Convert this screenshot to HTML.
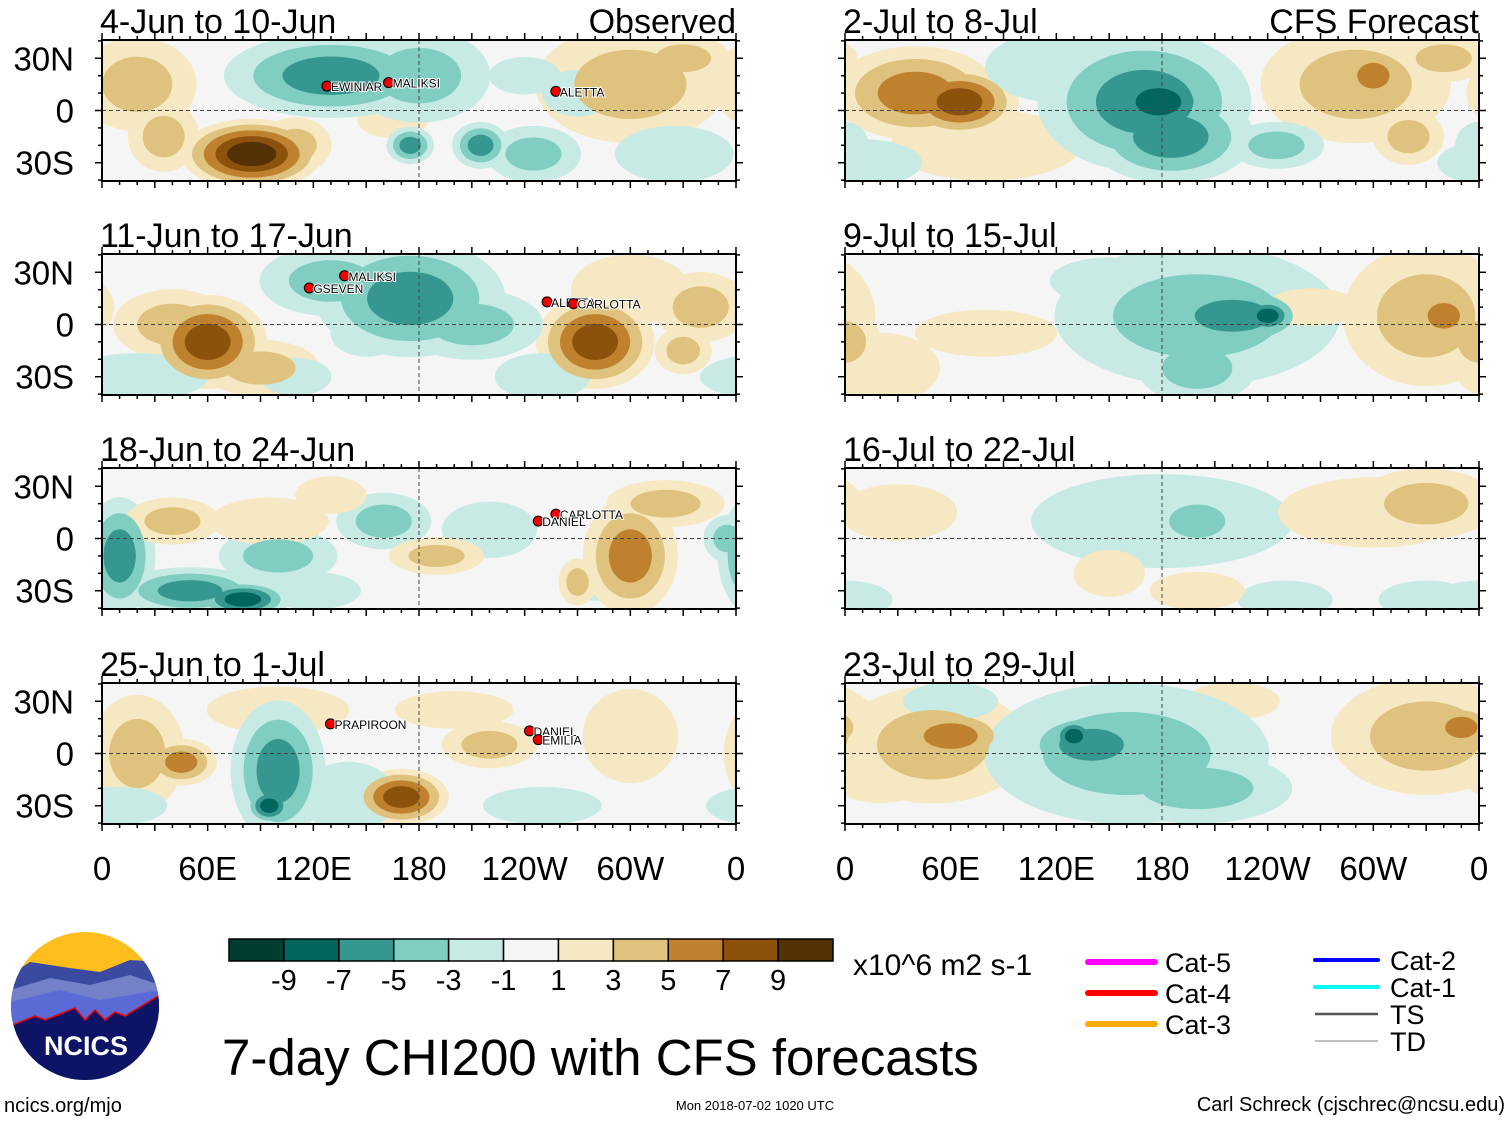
<!DOCTYPE html>
<html><head><meta charset="utf-8"><style>
body{margin:0;background:#fff;}
svg{display:block;font-family:"Liberation Sans",sans-serif;}
</style></head><body>
<svg id="fig" width="1510" height="1121" viewBox="0 0 1510 1121">
<defs id="defs"></defs>
<g id="panels"></g>
<g id="axes"></g>
<g id="cbar"></g>
<text x="853" y="975" font-size="30">x10^6 m2 s-1</text>
<text x="222" y="1075" font-size="51">7-day CHI200 with CFS forecasts</text>
<g>
<clipPath id="lc"><circle cx="85" cy="1006" r="74"/></clipPath>
<g clip-path="url(#lc)">
<rect x="10" y="930" width="150" height="160" fill="#fdbd1c"/>
<path d="M10 975 L30 962 L70 968 L100 972 L130 960 L160 962 L160 1090 L10 1090Z" fill="#3a4aa0"/>
<path d="M10 990 L50 978 L90 985 L130 975 L160 985 L160 1090 L10 1090Z" fill="#7480c8"/>
<path d="M10 1002 L60 990 L100 1000 L160 990 L160 1090 L10 1090Z" fill="#5a6bd8"/>
<path d="M10 1026 L35 1016 L45 1020 L55 1016 L75 1008 L85 1020 L95 1010 L105 1020 L115 1012 L125 1016 L160 995 L160 1090 L10 1090Z" fill="#0d1466" stroke="#e00" stroke-width="1.5"/>
</g>
<text x="86" y="1055" font-size="27" font-weight="bold" fill="#fff" text-anchor="middle">NCICS</text>
</g>
<text x="4" y="1112" font-size="20">ncics.org/mjo</text>
<text x="755" y="1110" font-size="13" text-anchor="middle">Mon 2018-07-02 1020 UTC</text>
<text x="1505" y="1111" font-size="20" text-anchor="end">Carl Schreck (cjschrec@ncsu.edu)</text>
<g font-size="27">
<line x1="1088" y1="962" x2="1155" y2="962" stroke="#f0f" stroke-width="6" stroke-linecap="round"/><text x="1165" y="972">Cat-5</text>
<line x1="1088" y1="993" x2="1155" y2="993" stroke="#f00" stroke-width="6" stroke-linecap="round"/><text x="1165" y="1003">Cat-4</text>
<line x1="1088" y1="1024" x2="1155" y2="1024" stroke="#fa0" stroke-width="6" stroke-linecap="round"/><text x="1165" y="1034">Cat-3</text>
<line x1="1315" y1="960" x2="1378" y2="960" stroke="#00f" stroke-width="4" stroke-linecap="round"/><text x="1390" y="970">Cat-2</text>
<line x1="1315" y1="987" x2="1378" y2="987" stroke="#0ff" stroke-width="4" stroke-linecap="round"/><text x="1390" y="997">Cat-1</text>
<line x1="1315" y1="1014" x2="1378" y2="1014" stroke="#555" stroke-width="2.5"/><text x="1390" y="1024">TS</text>
<line x1="1315" y1="1041" x2="1378" y2="1041" stroke="#aaa" stroke-width="1.5"/><text x="1390" y="1051">TD</text>
</g>
</svg>
<script>
const NS="http://www.w3.org/2000/svg";
const levelEdges=[-9,-7,-5,-3,-1,1,3,5,7,9];
const levelColors=["#003c30","#01665e","#35978f","#80cdc1","#c7eae5","#f5f5f5","#f6e8c3","#dfc27d","#bf812d","#8c510a","#543005"];
const cbarLabels=["-9","-7","-5","-3","-1","1","3","5","7","9"];
const lonTicks=[0,60,120,180,240,300,360];
const lonLabels=["0","60E","120E","180","120W","60W","0"];
const latTicks=[30,0,-30];
const latLabels=["30N","0","30S"];
const panelTitles=["4-Jun to 10-Jun","11-Jun to 17-Jun","18-Jun to 24-Jun","25-Jun to 1-Jul","2-Jul to 8-Jul","9-Jul to 15-Jul","16-Jul to 22-Jul","23-Jul to 29-Jul"];
// blobs: [lon, lat, lonRadius, latRadius, peak value]
const blobsP1=[[20,15,25,20,4],[35,-15,15,15,4],[85,-25,30,15,10],[110,-20,15,12,4],[165,-5,15,8,2],[300,15,40,25,4],[330,30,20,10,4],[130,20,45,18,-6],[180,20,30,20,-4],[175,-20,10,8,-6],[215,-20,12,10,-6],[245,-25,20,12,-4],[270,10,15,10,-2],[325,-25,25,12,-2],[240,20,15,8,-2]];
const blobsP2=[[40,0,25,15,4],[60,-10,25,20,8],[90,-25,25,12,4],[280,-10,25,20,8],[300,20,25,15,2],[340,10,20,15,4],[330,-15,12,10,4],[130,25,30,15,-4],[175,15,40,25,-6],[210,0,30,15,-4],[150,-5,15,10,-2],[20,-30,30,10,-2],[110,-30,15,8,-2],[250,-30,20,10,-2]];
const blobsP3=[[10,-10,15,25,-6],[50,-30,30,10,-6],[80,-35,20,8,-8],[100,-10,25,12,-4],[160,10,20,12,-4],[220,5,20,12,-2],[355,0,10,10,-4],[120,-30,20,8,-2],[280,-25,10,8,-2],[40,10,20,10,4],[95,10,25,10,2],[190,-10,20,8,4],[300,-10,20,25,6],[270,-25,8,10,4],[320,20,25,10,4],[130,25,15,8,2]];
const blobsP4=[[20,0,20,25,4],[45,-5,15,10,6],[100,25,30,10,2],[170,-25,20,12,8],[220,5,20,10,4],[300,10,20,20,2],[200,25,25,8,2],[100,-10,20,30,-6],[95,-30,10,8,-8],[140,-25,20,15,-2],[250,-30,25,8,-2],[10,-30,20,8,-2]];
const blobsP5=[[40,10,35,20,6],[65,5,25,15,8],[80,-20,40,15,2],[290,15,40,25,4],[300,20,15,12,6],[340,30,20,10,4],[320,-15,15,12,4],[170,5,45,30,-6],[178,5,25,15,-8],[185,-15,35,20,-6],[10,-30,25,10,-2],[245,-20,20,10,-4],[360,-20,10,10,-2],[120,25,30,15,-2]];
const blobsP6=[[200,5,60,30,-4],[220,5,35,15,-6],[240,5,12,8,-8],[200,-25,25,15,-4],[150,25,25,10,-2],[330,5,35,30,4],[340,5,15,12,6],[80,-5,30,10,2],[20,-25,25,15,2],[0,-10,15,15,4],[265,10,20,8,2]];
const blobsP7=[[180,10,55,20,-2],[200,10,20,12,-4],[0,-35,20,8,-2],[250,-35,20,8,-2],[330,-35,20,8,-2],[300,15,40,15,2],[330,20,30,15,4],[30,15,25,12,2],[150,-20,15,10,2],[200,-30,20,8,2]];
const blobsP8=[[50,5,40,25,4],[60,10,25,12,6],[330,10,40,25,4],[350,15,15,10,6],[20,-15,20,10,2],[220,30,20,8,2],[160,0,60,30,-4],[140,5,30,15,-6],[130,10,10,8,-8],[200,-20,40,15,-4],[60,30,20,8,-2]];
const panelBlobs=[blobsP1,blobsP2,blobsP3,blobsP4,blobsP5,blobsP6,blobsP7,blobsP8];
const storms=[[0,"EWINIAR",130,14],[0,"MALIKSI",165,16],[0,"ALETTA",260,11],[1,"MALIKSI",140,28],[1,"GSEVEN",120,21],[1,"ALETTA",255,13],[1,"CARLOTTA",270,12],[2,"CARLOTTA",260,14],[2,"DANIEL",250,10],[3,"PRAPIROON",132,17],[3,"DANIEL",245,13],[3,"EMILIA",250,8]];

const colX=[102,845], W=634, rowY=[40,254,468,683], H=141;
const latMax=40.5, grow=1.35;
function colorFor(v){let i=0;while(i<levelEdges.length&&v>levelEdges[i])i++;return levelColors[i];}
function xs(p,lon){return colX[Math.floor(p/4)]+lon/360*W;}
function ys(p,lat){return rowY[p%4]+(latMax-lat)/(2*latMax)*H;}
const panels=document.getElementById('panels'),defs=document.getElementById('defs');
function mk(tag,attrs,parent){const e=document.createElementNS(NS,tag);for(const k in attrs)e.setAttribute(k,attrs[k]);parent.appendChild(e);return e;}
for(let p=0;p<8;p++){
  const x0=colX[Math.floor(p/4)],y0=rowY[p%4];
  const cp=mk('clipPath',{id:'cp'+p},defs);mk('rect',{x:x0,y:y0,width:W,height:H},cp);
  const g=mk('g',{'clip-path':'url(#cp'+p+')'},panels);
  
  
  mk('rect',{x:x0,y:y0,width:W,height:H,fill:'#f5f5f5'},g);
  const bl=panelBlobs[p];
  for(let k=1;k<=5;k++){
    bl.forEach(b=>{
      const n=Math.ceil(Math.abs(b[4])/2);if(k>n)return;
      const s=grow*(1-0.82*(k-1)/n), v=Math.sign(b[4])*2*k;
      [0,-360,360].forEach(off=>{
        const e=mk('ellipse',{cx:xs(p,b[0]+off),cy:ys(p,b[1]),rx:b[2]/360*W*s,ry:b[3]/(2*latMax)*H*s,fill:colorFor(v)},g);
        
        
      });
    });
  }
  mk('line',{x1:x0,y1:ys(p,0),x2:x0+W,y2:ys(p,0),stroke:'#444','stroke-dasharray':'4,3','stroke-width':1},g);
  mk('line',{x1:xs(p,180),y1:y0,x2:xs(p,180),y2:y0+H,stroke:'#444','stroke-dasharray':'4,3','stroke-width':1},g);
  const fr=mk('rect',{x:x0,y:y0,width:W,height:H,fill:'none',stroke:'#000','stroke-width':2},panels);
  
  
  for(let l=0;l<=360;l+=10){const L=l%30==0?7:4;const x=xs(p,l);
    mk('line',{x1:x,y1:y0,x2:x,y2:y0-L,stroke:'#000','stroke-width':1.5},panels);
    mk('line',{x1:x,y1:y0+H,x2:x,y2:y0+H+L,stroke:'#000','stroke-width':1.5},panels);}
  for(let la=-40;la<=40;la+=10){const L=la%30==0?7:4;const y=ys(p,la);
    mk('line',{x1:x0,y1:y,x2:x0-L,y2:y,stroke:'#000','stroke-width':1.5},panels);
    mk('line',{x1:x0+W,y1:y,x2:x0+W+L,y2:y,stroke:'#000','stroke-width':1.5},panels);}
  const t=mk('text',{x:x0-2,y:y0-7,'font-size':34,'textLength':0},panels);t.removeAttribute('textLength');t.textContent=panelTitles[p];
  
  
  if(p%4==0){const t2=mk('text',{x:x0+W,y:y0-7,'font-size':34,'text-anchor':'end'},panels);t2.textContent=p==0?'Observed':'CFS Forecast';
    
    }
  if(p<4){latTicks.forEach((la,i)=>{const t3=mk('text',{x:74,y:ys(p,la)+12,'font-size':33,'text-anchor':'end'},panels);t3.textContent=latLabels[i];
    
    });}
}
storms.forEach(s=>{const p=s[0];const x=xs(p,s[2]),y=ys(p,s[3]);
  const c=mk('circle',{cx:x-4,cy:y,r:5,fill:'#e00',stroke:'#000','stroke-width':1},panels);
  
  
  const t=mk('text',{x:x,y:y+5,'font-size':12,fill:'#000',stroke:'#fff','stroke-width':2,'paint-order':'stroke'},panels);t.textContent=s[1];
  
  });
const axes=document.getElementById('axes');
[0,1].forEach(c=>{lonTicks.forEach((l,i)=>{const t=mk('text',{x:colX[c]+l/360*W,y:880,'font-size':33,'text-anchor':'middle'},axes);t.textContent=lonLabels[i];
  
  });});
const cb=document.getElementById('cbar');const bw=604/levelColors.length;
levelColors.forEach((c,i)=>{const r=mk('rect',{x:229+i*bw,y:939,width:bw,height:22,fill:c,stroke:'#000','stroke-width':1.5},cb);
  
  });
cbarLabels.forEach((l,i)=>{const t=mk('text',{x:229+(i+1)*bw,y:990,'font-size':29,'text-anchor':'middle'},cb);t.textContent=l;
  
  });
</script>
</body></html>
